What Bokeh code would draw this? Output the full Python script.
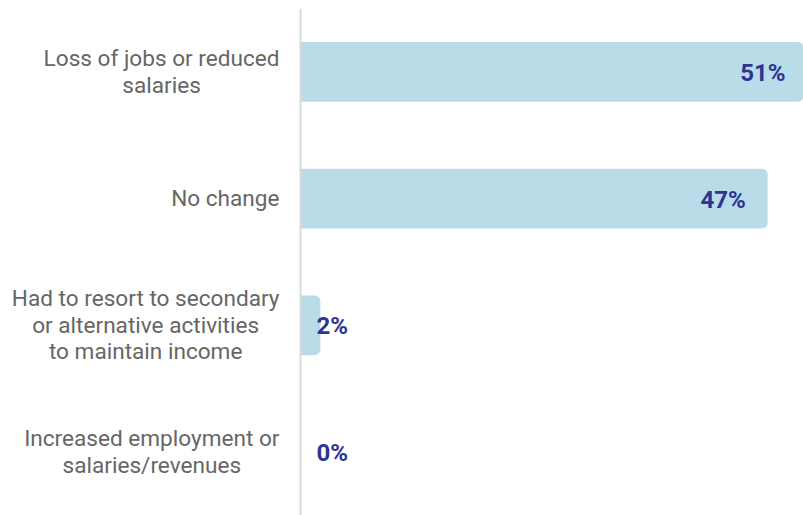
from bokeh.plotting import figure
from bokeh.models import ColumnDataSource, FactorRange, Span, Range1d
from bokeh.core.properties import value
from bokeh.embed import file_html
from bokeh.resources import INLINE

categories = [
    "Loss of jobs or reduced\nsalaries",
    "No change",
    "Had to resort to secondary\nor alternative activities\nto maintain income",
    "Increased employment or\nsalaries/revenues",
]
values = [51, 47, 2, 0]
value_labels = [f"{v}%" for v in values]

BAR = "#b9dde8"
VAL = "#2e3494"
GREY = "#666666"

src = ColumnDataSource(dict(cat=categories, val=values, lab=value_labels))
inside = [i for i, v in enumerate(values) if v >= 10]
outside = [i for i, v in enumerate(values) if v < 10]
src_in = ColumnDataSource(dict(cat=[categories[i] for i in inside],
                               val=[values[i] for i in inside],
                               lab=[value_labels[i] for i in inside]))
src_out = ColumnDataSource(dict(cat=[categories[i] for i in outside],
                                zero=[0] * len(outside),
                                lab=[value_labels[i] for i in outside]))

XMAX = 50.6
XMIN = -XMAX * 292 / 503

p = figure(width=803, height=515, output_backend="svg", toolbar_location=None,
           y_range=FactorRange(factors=categories[::-1]),
           x_range=Range1d(XMIN, XMAX),
           x_axis_location=None, y_axis_location=None,
           min_border=0, min_border_left=8, min_border_right=0,
           min_border_top=8, min_border_bottom=0)
p.outline_line_color = None
p.xgrid.visible = False
p.ygrid.visible = False

p.hbar(y="cat", left=0, right="val", height=0.47, source=src,
       fill_color=BAR, line_color=None, border_radius=(0, 6, 6, 0))

p.add_layout(Span(location=0, dimension="height", line_color="#d9d9d9",
                  line_width=2, level="overlay"))

p.text(x=0, y="cat", text="cat", source=src, x_offset=-21,
       text_align="center", anchor="center_right", text_baseline="middle",
       text_font=value("Roboto"), text_font_size="22.6px", text_color=GREY,
       text_line_height=0.98)

p.text(x="val", y="cat", text="lab", source=src_in, x_offset=-22, y_offset=1,
       text_align="right", text_baseline="middle",
       text_font=value("Roboto"), text_font_style="bold",
       text_font_size="24px", text_color=VAL)
p.text(x="zero", y="cat", text="lab", source=src_out, x_offset=16, y_offset=1,
       text_align="left", text_baseline="middle",
       text_font=value("Roboto"), text_font_style="bold",
       text_font_size="24px", text_color=VAL)

open("out.html", "w").write(file_html(p, INLINE))
